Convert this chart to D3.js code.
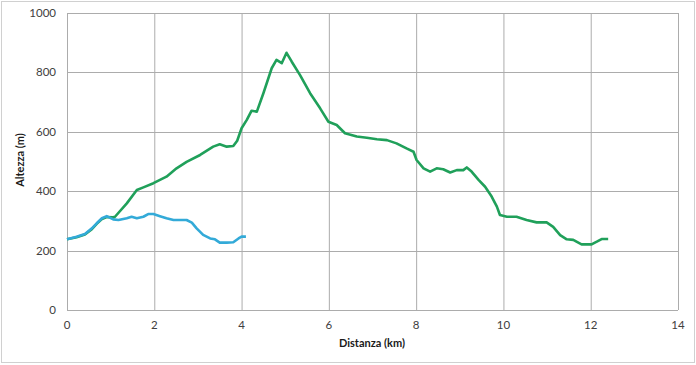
<!DOCTYPE html>
<html>
<head>
<meta charset="utf-8">
<script src="https://cdn.jsdelivr.net/npm/d3@7"></script>
<style>
body { margin: 0; background: #fff; }
svg text { font-family: Lato, "Open Sans", sans-serif; }
</style>
</head>
<body>
<div id="chart"></div>
<script>
var width = 696;
var height = 365;

// x ticks and y ticks
var xTicks = [0, 2, 4, 6, 8, 10, 12, 14];
var yTicks = [0, 200, 400, 600, 800, 1000];

// blue track (short loop)
var blueKm = [0, 0.22, 0.41, 0.57, 0.68, 0.8, 0.91, 1.06, 1.18, 1.37, 1.48, 1.6, 1.75, 1.86, 1.98, 2.13, 2.28, 2.44, 2.59, 2.74, 2.86, 2.97, 3.12, 3.28, 3.39, 3.5, 3.66, 3.81, 3.93, 4.0, 4.1];
var blueAlt = [238, 247, 256, 275, 292, 309, 316, 305, 303, 309, 314, 309, 314, 323, 323, 316, 309, 303, 303, 303, 294, 275, 253, 241, 238, 227, 227, 228, 241, 247, 247];

// green track (long loop)
var greenKm = [0, 0.22, 0.41, 0.57, 0.68, 0.8, 0.91, 1.06, 1.1, 1.37, 1.6, 1.75, 1.98, 2.28, 2.51, 2.74, 3.05, 3.35, 3.5, 3.66, 3.81, 3.9, 4.0, 4.12, 4.23, 4.35, 4.5, 4.69, 4.8, 4.92, 5.03, 5.15, 5.34, 5.57, 5.8, 5.99, 6.18, 6.37, 6.64, 6.87, 7.1, 7.33, 7.55, 7.78, 7.94, 8.01, 8.17, 8.32, 8.47, 8.62, 8.78, 8.93, 9.08, 9.16, 9.27, 9.43, 9.58, 9.73, 9.85, 9.92, 10.08, 10.3, 10.53, 10.76, 10.99, 11.14, 11.3, 11.45, 11.6, 11.79, 12.02, 12.14, 12.25, 12.4];
var greenAlt = [238, 245, 254, 272, 290, 306, 313, 312, 314, 359, 404, 413, 427, 449, 477, 499, 522, 550, 558, 550, 552, 570, 612, 640, 671, 668, 730, 814, 842, 831, 866, 836, 791, 730, 679, 634, 623, 595, 584, 580, 575, 572, 561, 544, 533, 505, 477, 466, 477, 474, 463, 471, 471, 480, 466, 438, 415, 382, 348, 320, 314, 314, 303, 295, 295, 280, 252, 238, 236, 221, 221, 230, 239, 239];

var svg = d3.select("#chart").append("svg")
  .attr("width", width)
  .attr("height", height);

// outer frame
svg.append("rect")
  .attr("x", 1.5).attr("y", 1.5)
  .attr("width", width - 3).attr("height", height - 4)
  .attr("fill", "#fff")
  .attr("stroke", "#d0d0d0");

var x = d3.scaleLinear().domain([0, 14]).range([67, 678]);
var y = d3.scaleLinear().domain([0, 1000]).range([310, 13]);

// gridlines
svg.append("g").selectAll("line")
  .data(xTicks).enter().append("line")
  .attr("x1", function(d) { return x(d) + 0.5; })
  .attr("x2", function(d) { return x(d) + 0.5; })
  .attr("y1", y(1000)).attr("y2", y(0))
  .attr("stroke", "#acacac");

svg.append("g").selectAll("line")
  .data(yTicks).enter().append("line")
  .attr("y1", function(d) { return Math.round(y(d)) + 0.5; })
  .attr("y2", function(d) { return Math.round(y(d)) + 0.5; })
  .attr("x1", x(0)).attr("x2", x(14))
  .attr("stroke", "#acacac");

// tick labels
svg.append("g").selectAll("text")
  .data(yTicks).enter().append("text")
  .attr("x", 56)
  .attr("y", function(d) { return y(d) + 4; })
  .attr("text-anchor", "end")
  .attr("font-size", 11.5)
  .attr("fill", "#404040")
  .text(function(d) { return d; });

svg.append("g").selectAll("text")
  .data(xTicks).enter().append("text")
  .attr("x", function(d) { return x(d); })
  .attr("y", 329)
  .attr("text-anchor", "middle")
  .attr("font-size", 11.5)
  .attr("fill", "#404040")
  .text(function(d) { return d; });

// axis titles
svg.append("text")
  .attr("x", 372).attr("y", 347)
  .attr("text-anchor", "middle")
  .attr("font-size", 11)
  .attr("font-weight", "bold")
  .attr("fill", "#1a1a1a")
  .text("Distanza (km)");

svg.append("text")
  .attr("transform", "translate(24,160) rotate(-90)")
  .attr("text-anchor", "middle")
  .attr("font-size", 11)
  .attr("font-weight", "bold")
  .attr("fill", "#1a1a1a")
  .text("Altezza (m)");

var line = d3.line()
  .x(function(d) { return x(d[0]); })
  .y(function(d) { return y(d[1]); });

svg.append("path")
  .datum(d3.zip(greenKm, greenAlt))
  .attr("d", line)
  .attr("fill", "none")
  .attr("stroke", "#20a05a")
  .attr("stroke-width", 2.6)
  .attr("stroke-linejoin", "round");

svg.append("path")
  .datum(d3.zip(blueKm, blueAlt))
  .attr("d", line)
  .attr("fill", "none")
  .attr("stroke", "#33aad8")
  .attr("stroke-width", 2.6)
  .attr("stroke-linejoin", "round");
</script>
</body>
</html>
